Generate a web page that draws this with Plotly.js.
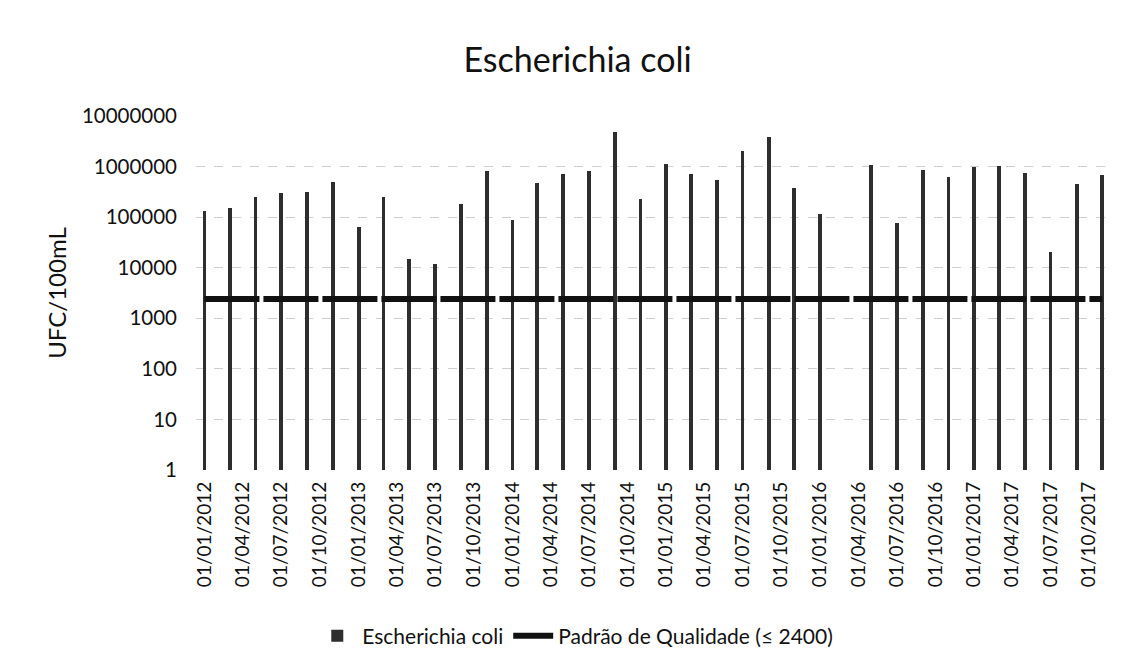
<!DOCTYPE html>
<html>
<head>
<meta charset="utf-8">
<script src="https://cdn.plot.ly/plotly-3.0.1.min.js"></script>
<style>
  html, body { margin: 0; padding: 0; background: #ffffff; }
  #chart { width: 1128px; height: 666px; }
</style>
</head>
<body>
<div id="chart"></div>
<script>
// Sample dates (bimonthly) and E. coli counts (UFC/100mL)
var sampleDates = [
  "2012-01-01","2012-03-01","2012-05-01","2012-07-01","2012-09-01","2012-11-01",
  "2013-01-01","2013-03-01","2013-05-01","2013-07-01","2013-09-01","2013-11-01",
  "2014-01-01","2014-03-01","2014-05-01","2014-07-01","2014-09-01","2014-11-01",
  "2015-01-01","2015-03-01","2015-05-01","2015-07-01","2015-09-01","2015-11-01",
  "2016-01-01","2016-03-01","2016-05-01","2016-07-01","2016-09-01","2016-11-01",
  "2017-01-01","2017-03-01","2017-05-01","2017-07-01","2017-09-01","2017-11-01"
];
var ecoliValues = [
  130000, 150000, 250000, 300000, 320000, 500000,
  64000, 250000, 15000, 12000, 180000, 800000,
  87000, 465000, 710000, 830000, 4900000, 230000,
  1150000, 710000, 540000, 2000000, 3800000, 370000,
  118000, null, 1070000, 75000, 850000, 630000,
  980000, 1020000, 750000, 20500, 450000, 680000
];
var qualityLimit = 2400;

// Axis ticks
var yTickVals = [1, 10, 100, 1000, 10000, 100000, 1000000, 10000000];
var yTickText = ["1", "10", "100", "1000", "10000", "100000", "1000000", "10000000"];

var seriesName = "Escherichia coli";
var limitName = "Padrão de Qualidade (≤ 2400)";

var FONT = "Lato, 'Open Sans', 'DejaVu Sans', sans-serif";
var DAY = 86400000;

var traces = [
  {
    type: "bar",
    name: seriesName,
    x: sampleDates,
    y: ecoliValues,
    width: 9 * DAY,
    marker: { color: "#2e2e2e", line: { width: 0 } },
    hoverinfo: "x+y"
  },
  {
    type: "scatter",
    mode: "lines",
    name: limitName,
    x: sampleDates,
    y: sampleDates.map(function () { return qualityLimit; }),
    line: { color: "#111111", width: 6, dash: "55px,4px" },
    hoverinfo: "y"
  }
];

var layout = {
  width: 1128,
  height: 666,
  paper_bgcolor: "#ffffff",
  plot_bgcolor: "#ffffff",
  font: { family: FONT, color: "#111111", size: 20 },
  margin: { l: 196, r: 16, t: 116, b: 196 },
  title: {
    text: "Escherichia coli",
    font: { family: FONT, size: 34, color: "#111111" },
    x: 0.512, xref: "container", xanchor: "center",
    y: 0.91, yref: "container", yanchor: "middle"
  },
  xaxis: {
    type: "date",
    range: ["2011-12-12", "2017-11-24"],
    tick0: "2012-01-01",
    dtick: "M3",
    tickformat: "%d/%m/%Y",
    tickangle: -90,
    tickfont: { family: FONT, size: 19, color: "#111111" },
    showgrid: false,
    showline: false,
    zeroline: false,
    ticks: "",
    ticklabelstandoff: 7,
    fixedrange: true
  },
  yaxis: {
    type: "log",
    range: [0, 7],
    tickvals: yTickVals,
    ticktext: yTickText,
    tickfont: { family: FONT, size: 20.5, color: "#111111" },
    showgrid: true,
    gridcolor: "#cfcfcf",
    griddash: "dash",
    gridwidth: 1,
    showline: false,
    zeroline: false,
    ticks: "",
    ticklabelstandoff: 18,
    title: {
      text: "UFC/100mL",
      font: { family: FONT, size: 24, color: "#111111" },
      standoff: 8
    },
    fixedrange: true
  },
  bargap: 0,
  showlegend: true,
  legend: {
    orientation: "h",
    xref: "container", x: 0.51, xanchor: "center",
    yref: "container", y: 0.045, yanchor: "middle",
    font: { family: FONT, size: 21, color: "#111111" },
    bgcolor: "rgba(0,0,0,0)",
    itemwidth: 40,
    traceorder: "normal"
  }
};

Plotly.newPlot("chart", traces, layout, { displayModeBar: false, staticPlot: true });
</script>
</body>
</html>
